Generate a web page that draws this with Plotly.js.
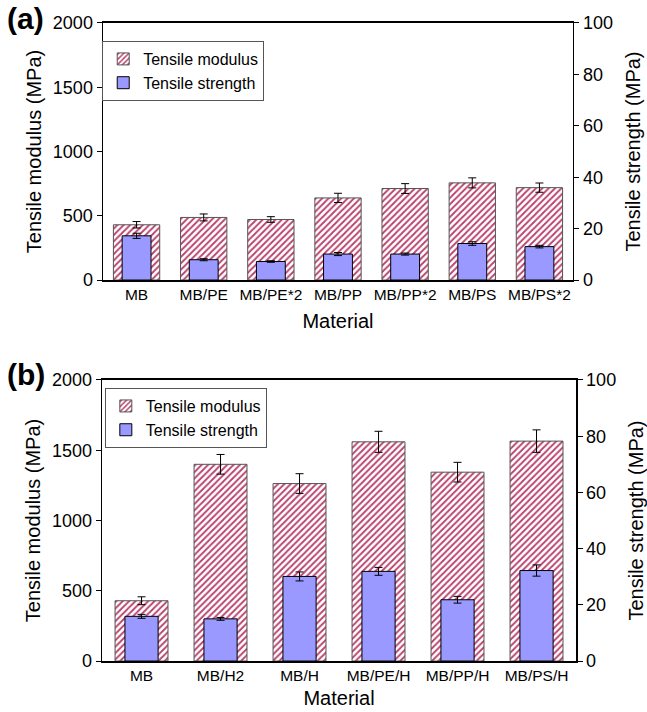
<!DOCTYPE html>
<html>
<head>
<meta charset="utf-8">
<script src="https://cdn.plot.ly/plotly-3.0.1.min.js"></script>
<style>html,body{margin:0;padding:0;background:#fff;}#chart{width:647px;height:712px;}</style>
</head>
<body>
<div id="chart"></div>
<script>
// Panel (a)
const catsA = ["MB", "MB/PE", "MB/PE*2", "MB/PP", "MB/PP*2", "MB/PS", "MB/PS*2"];
const modulusA = [430, 487, 471, 639, 712, 756, 719];
const modulusErrA = [25, 27, 22, 36, 38, 39, 36];
const strengthA = [17.2, 7.9, 7.2, 10.1, 10.1, 14.2, 13.0];
const strengthErrA = [1.0, 0.4, 0.3, 0.6, 0.4, 0.7, 0.5];

// Panel (b)
const catsB = ["MB", "MB/H2", "MB/H", "MB/PE/H", "MB/PP/H", "MB/PS/H"];
const modulusB = [429, 1400, 1263, 1560, 1344, 1565];
const modulusErrB = [28, 70, 70, 75, 70, 80];
const strengthB = [15.9, 15.0, 30.1, 31.9, 21.8, 32.2];
const strengthErrB = [0.7, 0.5, 1.6, 1.4, 1.2, 2.0];

const hatch = {shape: "/", fgcolor: "#b8406c", bgcolor: "#ffffff", size: 4.5, solidity: 0.4};
const FONT = "Arial, 'Liberation Sans', sans-serif";
const errStyle = (arr) => ({type: "data", array: arr, visible: true, color: "#000", thickness: 1, width: 4});

const traces = [
  {type: "bar", name: "Tensile modulus", x: catsA, y: modulusA, xaxis: "x", yaxis: "y",
   width: 0.69, marker: {color: "#ffffff", pattern: hatch, line: {color: "#555", width: 1}},
   error_y: errStyle(modulusErrA), legend: "legend"},
  {type: "bar", name: "Tensile strength", x: catsA, y: strengthA, xaxis: "x", yaxis: "y2",
   width: 0.43, marker: {color: "#9999ff", line: {color: "#000", width: 1}},
   error_y: errStyle(strengthErrA), legend: "legend"},
  {type: "bar", name: "Tensile modulus", x: catsB, y: modulusB, xaxis: "x2", yaxis: "y3",
   width: 0.67, marker: {color: "#ffffff", pattern: hatch, line: {color: "#555", width: 1}},
   error_y: errStyle(modulusErrB), legend: "legend2"},
  {type: "bar", name: "Tensile strength", x: catsB, y: strengthB, xaxis: "x2", yaxis: "y4",
   width: 0.42, marker: {color: "#9999ff", line: {color: "#000", width: 1}},
   error_y: errStyle(strengthErrB), legend: "legend2"}
];

const tickF = {family: FONT, size: 18, color: "#000"};
const titleF = {family: FONT, size: 20, color: "#000"};
const xTickF = {family: FONT, size: 15.5, color: "#000"};

function xAx(domain, anchor, standoff) {
  return {domain: domain, anchor: anchor, type: "category", showline: true, linecolor: "#000", linewidth: 1.5,
    mirror: true, ticks: "", showgrid: false, zeroline: false, tickfont: xTickF,
    title: {text: "Material", font: titleF, standoff: standoff}, fixedrange: true};
}
function yLeft(domain, anchor) {
  return {domain: domain, anchor: anchor, range: [0, 2000], tickvals: [0, 500, 1000, 1500, 2000],
    showline: true, linecolor: "#000", linewidth: 1.5, ticks: "outside", ticklen: 5, tickcolor: "#000",
    showgrid: false, zeroline: false, tickfont: tickF,
    title: {text: "Tensile modulus (MPa)", font: titleF, standoff: 6}};
}
function yRight(overlay, anchor) {
  return {overlaying: overlay, anchor: anchor, side: "right", range: [0, 100], tickvals: [0, 20, 40, 60, 80, 100],
    showline: true, linecolor: "#000", linewidth: 1.5, ticks: "outside", ticklen: 5, tickcolor: "#000",
    showgrid: false, zeroline: false, tickfont: tickF,
    title: {text: "Tensile strength (MPa)", font: titleF, standoff: 14}};
}

const legendStyle = (x, y) => ({x: x, y: y, xanchor: "left", yanchor: "top", xref: "paper", yref: "paper",
  bgcolor: "#fff", bordercolor: "#555", borderwidth: 1, font: {family: FONT, size: 16, color: "#000"},
  tracegroupgap: 4, itemwidth: 30});

const layout = {
  width: 647, height: 712,
  margin: {l: 0, r: 0, t: 0, b: 0},
  paper_bgcolor: "#fff", plot_bgcolor: "#fff",
  barmode: "overlay",
  showlegend: true,
  font: {family: FONT, color: "#000"},
  xaxis: xAx([0.1592, 0.8856], "y", 12),
  yaxis: yLeft([0.6067, 0.9677], "x"),
  yaxis2: yRight("y", "x"),
  xaxis2: xAx([0.1577, 0.8903], "y3", 8),
  yaxis3: yLeft([0.0716, 0.4663], "x2"),
  yaxis4: yRight("y3", "x2"),
  legend: legendStyle(0.158, 0.9424),
  legend2: legendStyle(0.162, 0.455),
  annotations: [
    {text: "<b>(a)</b>", x: 0.008, y: 1.0, xref: "paper", yref: "paper", xanchor: "left", yanchor: "top",
     showarrow: false, font: {family: FONT, size: 30, color: "#000"}},
    {text: "<b>(b)</b>", x: 0.008, y: 0.5, xref: "paper", yref: "paper", xanchor: "left", yanchor: "top",
     showarrow: false, font: {family: FONT, size: 30, color: "#000"}}
  ]
};

Plotly.newPlot("chart", traces, layout, {displayModeBar: false, staticPlot: true});
</script>
</body>
</html>
